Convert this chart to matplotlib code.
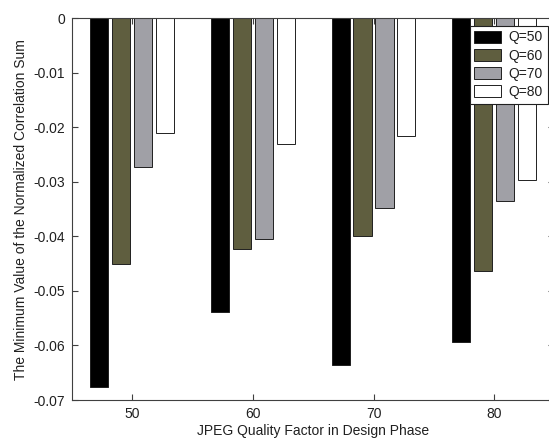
import matplotlib
matplotlib.use("Agg")
import matplotlib.pyplot as plt
import numpy as np

plt.rcParams['font.family'] = ['Liberation Sans', 'DejaVu Sans']

groups = [50, 60, 70, 80]
series_labels = ['Q=50', 'Q=60', 'Q=70', 'Q=80']
values = {
    'Q=50': [-0.0676, -0.0539, -0.0636, -0.0594],
    'Q=60': [-0.0450, -0.0423, -0.0400, -0.0464],
    'Q=70': [-0.0272, -0.0405, -0.0347, -0.0335],
    'Q=80': [-0.0210, -0.0231, -0.0216, -0.0297],
}
colors = ['#000000', '#5f5e3f', '#a0a0a6', '#ffffff']
yticks = [0, -0.01, -0.02, -0.03, -0.04, -0.05, -0.06, -0.07]
ytick_labels = ['0', '-0.01', '-0.02', '-0.03', '-0.04', '-0.05', '-0.06', '-0.07']

W, H = 549, 441
fs = 10
fig = plt.figure(figsize=(W / 100, H / 100), dpi=100)
left, right, top, bottom = 72, 554.4, 18.3, 400
ax = fig.add_axes([left / W, 1 - bottom / H, (right - left) / W, (bottom - top) / H])

x = np.array(groups, dtype=float)
spacing = 1.82
width = 1.5
for i, lab in enumerate(series_labels):
    ax.bar(x + (i - 1.5) * spacing, values[lab], width=width, color=colors[i],
           edgecolor='#202020', linewidth=0.7, label=lab, zorder=2)

ax.set_xlim(45, 85)
ax.set_ylim(-0.07, 0)
ax.set_xticks(groups)
ax.set_xticklabels([str(g) for g in groups])
ax.set_yticks(yticks)
ax.set_yticklabels(ytick_labels)
ax.tick_params(direction='in', length=4, width=0.8, color='#404040', labelsize=fs,
               top=True, right=True, pad=5, labelcolor='#202020')
for s in ax.spines.values():
    s.set_color('#404040')
    s.set_linewidth(0.8)

ax.set_xlabel('JPEG Quality Factor in Design Phase', fontsize=fs, labelpad=2, color='#202020')
ax.set_ylabel('The Minimum Value of the Normalized Correlation Sum', fontsize=fs,
              labelpad=4, color='#202020')

leg = fig.legend(loc='upper right', bbox_to_anchor=(547.5 / W, 1 - 25.5 / H),
                 bbox_transform=fig.transFigure, fontsize=fs, frameon=True,
                 fancybox=False, framealpha=1, edgecolor='#202020',
                 handlelength=1.9, handleheight=0.95, handletextpad=0.55,
                 labelspacing=0.3, borderpad=0.35, borderaxespad=0)
leg.get_frame().set_linewidth(0.8)
for t in leg.get_texts():
    t.set_color('#202020')

fig.savefig('out.png', dpi=100)
